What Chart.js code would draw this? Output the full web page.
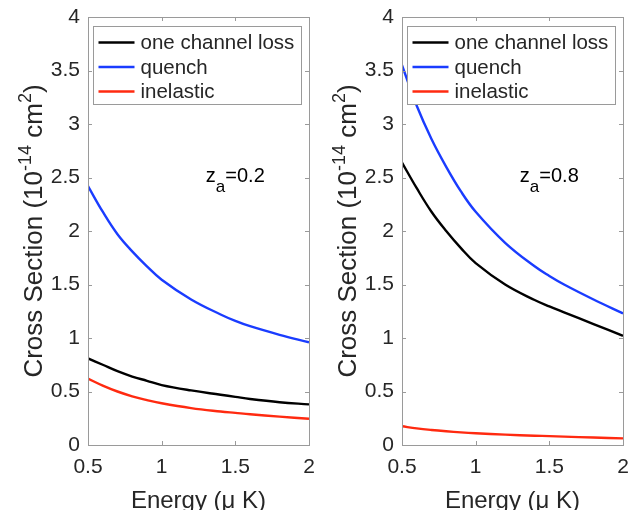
<!DOCTYPE html>
<html>
<head>
<meta charset="utf-8">
<script src="https://cdn.jsdelivr.net/npm/chart.js@4.4.0/dist/chart.umd.min.js"></script>
<style>
    html, body { margin: 0; padding: 0; background: #fff; }
    #wrap { position: relative; width: 639px; height: 510px; overflow: hidden; }
    canvas { position: absolute; top: 0; }
    #chartLeft { left: 0; }
    #chartRight { left: 314px; }
</style>
</head>
<body>
<div id="wrap">
    <canvas id="chartLeft" width="320" height="520"></canvas>
    <canvas id="chartRight" width="320" height="520"></canvas>
</div>
<script>
// Energy grid (micro K) and tick values
const energy = [0.5, 0.6, 0.7, 0.8, 0.9, 1.0, 1.2, 1.4, 1.5, 1.6, 1.8, 2.0];
const xTicks = [0.5, 1, 1.5, 2];
const xTickLabels = ['0.5', '1', '1.5', '2'];
const yTicks = [0, 0.5, 1, 1.5, 2, 2.5, 3, 3.5, 4];
const yTickLabels = ['0', '0.5', '1', '1.5', '2', '2.5', '3', '3.5', '4'];

// z_a = 0.2
const loss02 = [0.81, 0.75, 0.69, 0.64, 0.60, 0.56, 0.51, 0.47, 0.45, 0.43, 0.40, 0.38];
const quench02 = [2.42, 2.18, 1.97, 1.81, 1.67, 1.545, 1.36, 1.22, 1.16, 1.11, 1.03, 0.96];
const inel02 = [0.62, 0.555, 0.50, 0.455, 0.42, 0.39, 0.345, 0.313, 0.30, 0.287, 0.265, 0.245];

// z_a = 0.8
const loss08 = [2.64, 2.40, 2.18, 2.00, 1.84, 1.70, 1.50, 1.355, 1.295, 1.24, 1.13, 1.02];
const quench08 = [3.55, 3.17, 2.86, 2.60, 2.37, 2.18, 1.89, 1.67, 1.58, 1.50, 1.36, 1.23];
const inel08 = [0.175, 0.155, 0.14, 0.128, 0.118, 0.11, 0.097, 0.087, 0.083, 0.078, 0.07, 0.062];

const seriesNames = ['one channel loss', 'quench', 'inelastic'];
const seriesColors = ['#000000', '#1a3cff', '#ff2a10'];

const FONT = '"Liberation Sans", Arial, Helvetica, sans-serif';
const TEXT = '#262626';
const AXIS = '#9a9a9a';

function toPoints(ys) {
    return ys.map((y, i) => ({ x: energy[i], y: y }));
}

// box, inward ticks, legend, y title and annotation
const matlabStyle = {
    id: 'matlabStyle',
    afterDatasetsDraw(chart, args, opts) {
        const ctx = chart.ctx;
        const a = chart.chartArea;
        const xs = chart.scales.x, ys = chart.scales.y;
        const tl = 4;

        ctx.save();
        ctx.strokeStyle = AXIS;
        ctx.lineWidth = 1;
        ctx.strokeRect(Math.round(a.left) + 0.5, Math.round(a.top) + 0.5,
            Math.round(a.right - a.left), Math.round(a.bottom - a.top));
        ctx.beginPath();
        xs.ticks.forEach(t => {
            const px = Math.round(xs.getPixelForValue(t.value)) + 0.5;
            ctx.moveTo(px, a.bottom); ctx.lineTo(px, a.bottom - tl);
            ctx.moveTo(px, a.top); ctx.lineTo(px, a.top + tl);
        });
        ys.ticks.forEach(t => {
            const py = Math.round(ys.getPixelForValue(t.value)) + 0.5;
            ctx.moveTo(a.left, py); ctx.lineTo(a.left + tl, py);
            ctx.moveTo(a.right, py); ctx.lineTo(a.right - tl, py);
        });
        ctx.stroke();

        // legend
        const bx = Math.round(a.left) + 5.5, by = Math.round(a.top) + 9.5;
        const bw = 208, bh = 78;
        ctx.fillStyle = '#fff';
        ctx.fillRect(bx, by, bw, bh);
        ctx.strokeStyle = AXIS;
        ctx.strokeRect(bx, by, bw, bh);
        ctx.font = '20.5px ' + FONT;
        ctx.textBaseline = 'middle';
        ctx.textAlign = 'left';
        chart.data.datasets.forEach((ds, i) => {
            const cy = by + 16 + i * 24.5;
            ctx.strokeStyle = ds.borderColor;
            ctx.lineWidth = 2.4;
            ctx.beginPath();
            ctx.moveTo(bx + 5, cy); ctx.lineTo(bx + 41, cy);
            ctx.stroke();
            ctx.fillStyle = TEXT;
            ctx.fillText(ds.label, bx + 47, cy + 1);
        });

        // annotation z_a
        const ax = xs.getPixelForValue(opts.labelX);
        const ay = ys.getPixelForValue(opts.labelY);
        ctx.fillStyle = '#000';
        ctx.textBaseline = 'alphabetic';
        ctx.font = '20px ' + FONT;
        ctx.fillText('z', ax, ay);
        let w = ctx.measureText('z').width;
        ctx.font = '17px ' + FONT;
        ctx.fillText('a', ax + w, ay + 10);
        w += ctx.measureText('a').width;
        ctx.font = '20px ' + FONT;
        ctx.fillText(opts.label, ax + w, ay);

        // y title with superscripts
        const parts = [
            ['Cross Section (10', 26, 0],
            ['-14', 18, -11],
            [' cm', 26, 0],
            ['2', 18, -11],
            [')', 26, 0]
        ];
        let total = 0;
        parts.forEach(p => { ctx.font = p[1] + 'px ' + FONT; total += ctx.measureText(p[0]).width; });
        ctx.translate(42, (a.top + a.bottom) / 2);
        ctx.rotate(-Math.PI / 2);
        ctx.fillStyle = TEXT;
        let cx = -total / 2;
        parts.forEach(p => {
            ctx.font = p[1] + 'px ' + FONT;
            ctx.fillText(p[0], cx, p[2]);
            cx += ctx.measureText(p[0]).width;
        });
        ctx.restore();
    }
};

function makeChart(canvasId, loss, quench, inel, annot) {
    const canvas = document.getElementById(canvasId);
    const ctx = canvas.getContext('2d');
    const values = [loss, quench, inel];

    return new Chart(ctx, {
        type: 'line',
        data: {
            datasets: values.map((ys, i) => ({
                label: seriesNames[i],
                data: toPoints(ys),
                borderColor: seriesColors[i],
                backgroundColor: seriesColors[i],
                borderWidth: 2.4,
                pointRadius: 0,
                fill: false,
                tension: 0.4
            }))
        },
        options: {
            responsive: false,
            animation: false,
            devicePixelRatio: 1,
            layout: { padding: { left: 0, right: 11, top: 17, bottom: 0 } },
            plugins: {
                legend: { display: false },
                tooltip: { enabled: false },
                matlabStyle: { labelX: 1.3, labelY: 2.46, label: annot }
            },
            scales: {
                x: {
                    type: 'linear',
                    min: 0.5,
                    max: 2,
                    afterBuildTicks: function(scale) {
                        scale.ticks = xTicks.map(v => ({ value: v }));
                    },
                    afterFit: function(scale) {
                        scale.height = 75;
                        scale.paddingLeft = 0;
                        scale.paddingRight = 0;
                    },
                    grid: { display: false, drawTicks: false },
                    border: { display: false },
                    ticks: {
                        autoSkip: false,
                        maxRotation: 0,
                        padding: 10,
                        color: TEXT,
                        font: { family: FONT, size: 21 },
                        callback: function(value, index) { return xTickLabels[index]; }
                    },
                    title: {
                        display: true,
                        text: 'Energy (\u03bc K)',
                        color: TEXT,
                        font: { family: FONT, size: 24 },
                        padding: { top: 0, bottom: 4 }
                    }
                },
                y: {
                    type: 'linear',
                    min: 0,
                    max: 4,
                    afterBuildTicks: function(scale) {
                        scale.ticks = yTicks.map(v => ({ value: v }));
                    },
                    afterFit: function(scale) {
                        scale.width = 88;
                        scale.paddingTop = 0;
                        scale.paddingBottom = 0;
                    },
                    grid: { display: false, drawTicks: false },
                    border: { display: false },
                    ticks: {
                        autoSkip: false,
                        padding: 8,
                        color: TEXT,
                        font: { family: FONT, size: 21 },
                        callback: function(value, index) { return yTickLabels[index]; }
                    }
                }
            }
        },
        plugins: [matlabStyle]
    });
}

makeChart('chartLeft', loss02, quench02, inel02, '=0.2');
makeChart('chartRight', loss08, quench08, inel08, '=0.8');
</script>
</body>
</html>
